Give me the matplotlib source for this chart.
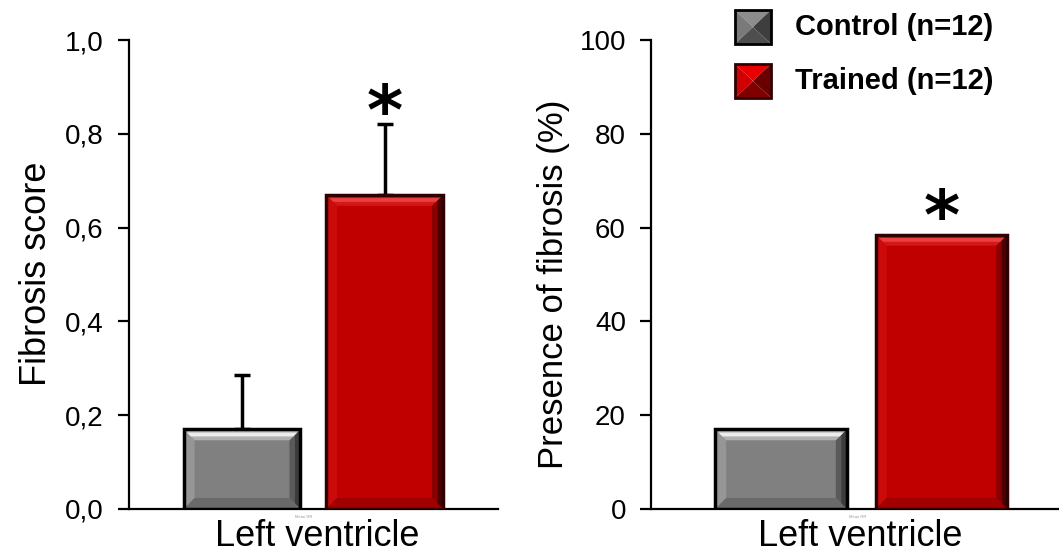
import matplotlib
matplotlib.use("Agg")
import matplotlib.pyplot as plt
from matplotlib.patches import Polygon
import numpy as np

# ---- data ----
groups = ["Control (n=12)", "Trained (n=12)"]
category = "Left ventricle"
score_mean = [0.17, 0.67]
score_err = [0.115, 0.15]
presence_pct = [17.0, 58.5]
score_ticks = [0.0, 0.2, 0.4, 0.6, 0.8, 1.0]
score_ticklabels = ["0,0", "0,2", "0,4", "0,6", "0,8", "1,0"]
pct_ticks = [0, 20, 40, 60, 80, 100]
pct_ticklabels = ["0", "20", "40", "60", "80", "100"]
sig_marks = ["", "*"]

W, H = 1059, 553
plt.rcParams['font.family'] = ['Liberation Sans', 'DejaVu Sans']
fig = plt.figure(figsize=(W / 100, H / 100), dpi=100)

def fx(px):
    return px / W

def fy(py):
    return 1 - py / H

styles = [
    dict(face="#808080", edge="#000000", top="#ececec", top2="#b0b0b0", left="#969696",
         right="#3c3c3c", right2="#5a5a5a", bottom="#6a6a6a"),
    dict(face="#c00000", edge="#300000", top="#e84040", top2="#d41818", left="#cc0a0a",
         right="#4a0000", right2="#8a0000", bottom="#a00000"),
]

def bevel(ax, rect, st, b=11):
    x0, y0 = rect.get_x(), rect.get_y()
    x1, y1 = x0 + rect.get_width(), y0 + rect.get_height()
    (X0, Y0) = ax.transData.transform((x0, y0))
    (X1, Y1) = ax.transData.transform((x1, y1))
    inv = ax.transData.inverted()
    def poly(pts, c):
        d = inv.transform(np.array(pts))
        ax.add_patch(Polygon(d, closed=True, facecolor=c, edgecolor="none", zorder=3))
    bb = min(b, (Y1 - Y0) / 2.5)
    poly([(X0, Y0), (X0 + bb, Y0 + bb), (X0 + bb, Y1 - bb), (X0, Y1)], st["left"])
    poly([(X1, Y0), (X1 - bb, Y0 + bb), (X1 - bb, Y1 - bb), (X1, Y1)], st["right2"])
    poly([(X1, Y0), (X1 - bb / 2, Y0 + bb / 2), (X1 - bb / 2, Y1 - bb / 2), (X1, Y1)], st["right"])
    poly([(X0, Y0), (X1, Y0), (X1 - bb, Y0 + bb), (X0 + bb, Y0 + bb)], st["bottom"])
    poly([(X0, Y1), (X1, Y1), (X1 - bb, Y1 - bb), (X0 + bb, Y1 - bb)], st["top2"])
    poly([(X0 + bb * 0.3, Y1 - bb * 0.3), (X1 - bb * 0.3, Y1 - bb * 0.3),
          (X1 - bb * 0.65, Y1 - bb * 0.65), (X0 + bb * 0.65, Y1 - bb * 0.65)], st["top"])
    d = inv.transform(np.array([(X0, Y0), (X1, Y0), (X1, Y1), (X0, Y1)]))
    ax.add_patch(Polygon(d, closed=True, facecolor="none", edgecolor=st["edge"],
                         linewidth=2.5, zorder=4))

def setup(ax, ylim, ticks, labels, xlim):
    ax.set_xlim(*xlim)
    ax.set_ylim(*ylim)
    ax.set_yticks(ticks)
    ax.set_yticklabels(labels, fontsize=20)
    ax.set_xticks([])
    for s in ["top", "right"]:
        ax.spines[s].set_visible(False)
    for s in ["left", "bottom"]:
        ax.spines[s].set_linewidth(1.6)
    ax.tick_params(axis="y", direction="out", length=8, width=1.6, pad=10)

pos = np.arange(len(groups))

# ---- left panel ----
ax1 = fig.add_axes([fx(129), fy(509), fx(498) - fx(129), fy(40) - fy(509)])
setup(ax1, (0, 1.0), score_ticks, score_ticklabels, (-0.793, 1.796))
bars1 = ax1.bar(pos, score_mean, width=0.82, color=[s["face"] for s in styles],
                edgecolor="none", zorder=2)
ax1.errorbar(pos, score_mean, yerr=[np.zeros(len(pos)), score_err], fmt="none",
             ecolor="black", elinewidth=2.5, capsize=6, capthick=2.5, zorder=1)
for r, st in zip(bars1, styles):
    bevel(ax1, r, st)
for x, m, e, s in zip(pos, score_mean, score_err, sig_marks):
    if s:
        ax1.annotate(s, xy=(x, m + e), xytext=(0, -17), textcoords="offset points",
                     ha="center", va="bottom", fontsize=50, fontweight="bold",
                     family="DejaVu Sans")

# ---- right panel ----
ax2 = fig.add_axes([fx(651), fy(509), fx(1059) - fx(651), fy(40) - fy(509)])
setup(ax2, (0, 100), pct_ticks, pct_ticklabels, (-0.81, 1.732))
bars2 = ax2.bar(pos, presence_pct, width=0.82, color=[s["face"] for s in styles],
                edgecolor="none", zorder=2)
for r, st in zip(bars2, styles):
    bevel(ax2, r, st)
for x, m, s in zip(pos, presence_pct, sig_marks):
    if s:
        ax2.annotate(s, xy=(x, m), xytext=(0, -13), textcoords="offset points",
                     ha="center", va="bottom", fontsize=50, fontweight="bold",
                     family="DejaVu Sans")

# ---- axis labels ----
fig.text(fx(37), fy(274), "Fibrosis score", rotation=90, ha="center", va="center", fontsize=26)
fig.text(fx(554), fy(284), "Presence of fibrosis (%)", rotation=90, ha="center", va="center", fontsize=25)
fig.text(fx(317), fy(546), category, ha="center", va="baseline", fontsize=26)
fig.text(fx(860), fy(546), category, ha="center", va="baseline", fontsize=26)
fig.text(fx(304), fy(517), "Mean RR", ha="center", va="center", fontsize=3, color="#999999")
fig.text(fx(858), fy(517), "Mean RR", ha="center", va="center", fontsize=3, color="#999999")

# ---- legend ----
leg_cols = [
    dict(top="#8c8c8c", left="#7a7a7a", right="#3e3e3e", bottom="#4e4e4e", edge="#000000"),
    dict(top="#e80000", left="#d00000", right="#6a0000", bottom="#800000", edge="#300000"),
]
leg_y = [27, 81]
for g, c, yc in zip(groups, leg_cols, leg_y):
    x0, x1 = 735, 771
    y0, y1 = yc - 17, yc + 17
    cx, cy = (x0 + x1) / 2, (y0 + y1) / 2
    P = lambda px, py: (fx(px), fy(py))
    tris = [
        ([P(x0, y0), P(x1, y0), P(cx, cy)], c["top"]),
        ([P(x0, y0), P(x0, y1), P(cx, cy)], c["left"]),
        ([P(x1, y0), P(x1, y1), P(cx, cy)], c["right"]),
        ([P(x0, y1), P(x1, y1), P(cx, cy)], c["bottom"]),
    ]
    for pts, col in tris:
        fig.add_artist(Polygon(pts, closed=True, facecolor=col, edgecolor="none",
                               transform=fig.transFigure))
    fig.add_artist(Polygon([P(x0, y0), P(x1, y0), P(x1, y1), P(x0, y1)], closed=True,
                           facecolor="none", edgecolor=c["edge"], linewidth=2,
                           transform=fig.transFigure))
    fig.text(fx(795), fy(yc), g, ha="left", va="center", fontsize=21, fontweight="bold")

fig.savefig("out.png", dpi=100)
